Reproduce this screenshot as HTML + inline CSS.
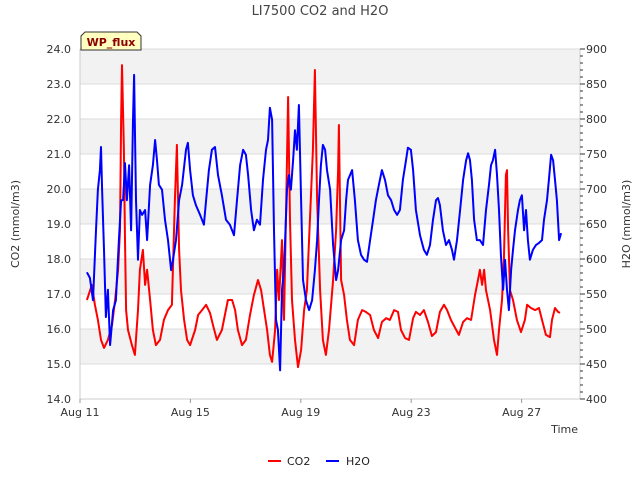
<!DOCTYPE html>
<html><head><meta charset="utf-8"><style>
body{margin:0;background:#fff;font-family:"Liberation Sans","DejaVu Sans",sans-serif}
svg text{font-family:"DejaVu Sans","Liberation Sans",sans-serif}
</style></head><body>
<svg id="chart" width="640" height="480" xmlns="http://www.w3.org/2000/svg">
<rect width="640" height="480" fill="#fff"/>
<text x="320" y="15" text-anchor="middle" font-size="13" fill="#444">LI7500 CO2 and H2O</text>
<g id="bands"></g>
<g id="grid"></g>
<line x1="80" y1="399" x2="580" y2="399" stroke="#ccc"/>
<line x1="80" y1="49" x2="80" y2="399" stroke="#ccc"/>
<line x1="580" y1="49" x2="580" y2="399" stroke="#ccc"/>
<g id="ticks"></g>
<g id="series"></g>
<text transform="translate(19,224) rotate(-90)" text-anchor="middle" font-size="11" fill="#333">CO2 (mmol/m3)</text>
<text transform="translate(630,224) rotate(-90)" text-anchor="middle" font-size="11" fill="#333">H2O (mmol/m3)</text>
<text x="578" y="433" text-anchor="end" font-size="11" fill="#333">Time</text>
<g>
<path d="M81,50 L81,36 L85,32 L137,32 L141,36 L141,50 Z" fill="#ffffc0" stroke="#333"/>
<text x="111" y="46" text-anchor="middle" font-size="11" font-weight="bold" fill="#8b0000">WP_flux</text>
</g>
<g>
<line x1="268" y1="461" x2="281" y2="461" stroke="#ff0000" stroke-width="2"/>
<text x="287" y="465" font-size="11" fill="#222">CO2</text>
<line x1="326" y1="461" x2="339" y2="461" stroke="#0000ff" stroke-width="2"/>
<text x="346" y="465" font-size="11" fill="#222">H2O</text>
</g>
</svg>
<script>
const xTickDays=[0,4,8,12,16];
const xTickLabels=["Aug 11","Aug 15","Aug 19","Aug 23","Aug 27"];
const leftTicks=[14,15,16,17,18,19,20,21,22,23,24];
const rightTicks=[400,450,500,550,600,650,700,750,800,850,900];
const co2Days=[0.25,0.43,0.54,0.65,0.76,0.87,1.01,1.16,1.27,1.38,1.45,1.49,1.52,1.59,1.63,1.67,1.74,1.88,1.99,2.10,2.17,2.28,2.36,2.43,2.54,2.64,2.75,2.90,3.04,3.19,3.33,3.44,3.51,3.59,3.66,3.77,3.88,3.99,4.17,4.28,4.42,4.57,4.71,4.82,4.96,5.14,5.36,5.51,5.62,5.72,5.87,6.01,6.16,6.30,6.45,6.56,6.67,6.78,6.88,6.96,7.07,7.14,7.21,7.32,7.39,7.46,7.54,7.61,7.68,7.79,7.90,8.01,8.12,8.22,8.33,8.44,8.51,8.59,8.70,8.80,8.91,9.02,9.17,9.28,9.35,9.38,9.46,9.57,9.67,9.78,9.93,10.07,10.22,10.36,10.51,10.65,10.80,10.94,11.09,11.23,11.38,11.52,11.63,11.78,11.92,12.07,12.17,12.32,12.46,12.61,12.75,12.90,13.04,13.19,13.30,13.44,13.59,13.73,13.88,14.02,14.17,14.31,14.42,14.49,14.57,14.64,14.71,14.86,15.00,15.11,15.18,15.29,15.36,15.43,15.47,15.51,15.58,15.69,15.83,15.98,16.12,16.20,16.34,16.49,16.63,16.74,16.88,17.03,17.10,17.21,17.32,17.39];
const co2Vals=[16.83,17.26,16.69,16.26,15.69,15.46,15.69,16.11,16.83,17.69,18.83,21.97,23.54,21.11,18.54,16.54,15.97,15.54,15.26,16.54,17.69,18.26,17.26,17.69,16.83,15.97,15.54,15.69,16.26,16.54,16.69,19.69,21.26,18.26,17.11,16.26,15.69,15.54,15.97,16.40,16.54,16.69,16.46,16.11,15.69,15.97,16.83,16.83,16.54,15.97,15.54,15.69,16.40,16.97,17.40,17.11,16.54,15.97,15.26,15.06,15.97,17.69,16.83,18.54,16.26,19.11,22.63,19.11,16.83,15.69,14.91,15.40,16.54,17.11,19.11,21.11,23.40,19.69,17.11,15.69,15.26,15.97,17.40,18.83,20.54,21.83,17.40,16.97,16.26,15.69,15.54,16.26,16.54,16.49,16.40,15.97,15.74,16.20,16.31,16.26,16.54,16.49,15.97,15.74,15.69,16.31,16.49,16.40,16.54,16.20,15.80,15.91,16.49,16.69,16.54,16.26,16.03,15.83,16.20,16.31,16.26,16.97,17.40,17.69,17.26,17.69,17.11,16.54,15.69,15.26,15.97,16.83,17.97,20.40,20.54,18.83,17.11,16.83,16.26,15.91,16.26,16.69,16.60,16.54,16.60,16.26,15.83,15.77,16.26,16.60,16.49,16.46];
const h2oDays=[0.25,0.36,0.47,0.58,0.65,0.72,0.76,0.80,0.87,0.94,1.01,1.09,1.20,1.30,1.41,1.49,1.56,1.63,1.70,1.78,1.85,1.92,1.96,2.03,2.10,2.17,2.25,2.36,2.43,2.54,2.64,2.72,2.79,2.86,2.97,3.08,3.19,3.30,3.37,3.48,3.59,3.70,3.84,3.91,3.99,4.09,4.20,4.35,4.49,4.57,4.67,4.78,4.89,5.00,5.14,5.29,5.43,5.58,5.69,5.80,5.91,6.01,6.09,6.20,6.30,6.41,6.52,6.63,6.74,6.81,6.88,6.96,7.03,7.10,7.17,7.25,7.32,7.39,7.50,7.57,7.64,7.72,7.79,7.86,7.93,8.01,8.08,8.19,8.30,8.41,8.51,8.59,8.66,8.73,8.80,8.88,8.95,9.06,9.17,9.28,9.35,9.46,9.57,9.64,9.71,9.86,9.96,10.07,10.18,10.29,10.40,10.51,10.62,10.72,10.83,10.94,11.05,11.16,11.27,11.38,11.49,11.59,11.70,11.81,11.88,11.99,12.07,12.17,12.32,12.46,12.57,12.68,12.79,12.90,12.97,13.04,13.15,13.26,13.37,13.48,13.55,13.66,13.77,13.88,13.99,14.06,14.13,14.20,14.28,14.38,14.49,14.60,14.71,14.82,14.89,14.96,15.04,15.11,15.18,15.25,15.33,15.40,15.47,15.54,15.62,15.69,15.76,15.87,15.94,16.01,16.09,16.16,16.23,16.30,16.41,16.52,16.63,16.74,16.81,16.92,16.99,17.07,17.14,17.21,17.28,17.36,17.43];
const h2oVals=[581,573,541,641,699,727,760,699,613,517,556,477,527,541,627,684,684,737,684,734,641,799,863,684,599,670,663,670,627,706,734,770,741,706,699,656,627,584,599,627,684,706,756,766,727,691,677,663,649,684,727,756,760,720,691,656,649,634,684,734,756,749,720,670,641,656,649,713,756,770,816,799,641,513,499,441,556,584,699,720,699,741,784,756,820,684,570,541,527,541,584,627,684,734,763,756,727,699,620,570,584,627,641,684,713,727,684,627,606,599,596,627,656,684,706,727,713,691,684,670,663,670,713,741,759,756,727,670,634,613,606,620,656,684,687,677,641,620,627,613,599,627,670,713,741,751,741,713,656,627,627,620,670,706,734,741,756,720,670,606,556,599,556,527,584,613,641,670,684,691,641,670,627,599,613,620,623,627,656,684,713,749,741,713,684,627,637];

const NS="http://www.w3.org/2000/svg";
const X0=80,X1=580,Y0=399,Y1=49,DAYPX=27.6;
const xScale=d=>X0+d*DAYPX;
const yLeft=v=>Y0-(v-14)/(24-14)*(Y0-Y1);
const yRight=v=>Y0-(v-400)/(900-400)*(Y0-Y1);
function mk(tag,attrs,parent){const e=document.createElementNS(NS,tag);for(const k in attrs)e.setAttribute(k,attrs[k]);parent.appendChild(e);return e;}
const bands=document.getElementById('bands'),grid=document.getElementById('grid'),ticks=document.getElementById('ticks'),series=document.getElementById('series');
for(let i=0;i<leftTicks.length-1;i++){
  if(i%2===1){const r=mk('rect',{x:X0,y:yLeft(leftTicks[i+1]),width:X1-X0,height:yLeft(leftTicks[i])-yLeft(leftTicks[i+1]),fill:'#f2f2f2'},bands);
  
  }
}
leftTicks.forEach(v=>{
  const y=yLeft(v);
  const g=mk('line',{x1:X0,x2:X1,y1:y,y2:y,stroke:'#dcdcdc'},grid);
  
  
  const t=mk('text',{x:71,y:y+4,'text-anchor':'end','font-size':11,fill:'#333'},ticks);
  t.textContent=v.toFixed(1);
  
  
});
rightTicks.forEach(v=>{
  const y=yRight(v);
  const l=mk('line',{x1:X1,x2:X1+5,y1:y,y2:y,stroke:'#333'},ticks);
  
  
  const t=mk('text',{x:586,y:y+4,'font-size':11,fill:'#333'},ticks);
  t.textContent=v;
  
  
});
for(let v=410;v<900;v+=10){if(v%50===0)continue;const y=yRight(v);
  const l=mk('line',{x1:X1,x2:X1+3,y1:y,y2:y,stroke:'#333'},ticks);
  
  }
xTickDays.forEach((d,i)=>{
  const x=xScale(d);
  const l=mk('line',{x1:x,x2:x,y1:Y0,y2:Y0+4,stroke:'#999'},ticks);
  
  
  const t=mk('text',{x:x,y:416,'text-anchor':'middle','font-size':11,fill:'#333'},ticks);
  t.textContent=xTickLabels[i];
  
  
});
function line(days,vals,ys,color,name){
  const d=days.map((t,i)=>(i?'L':'M')+xScale(t).toFixed(1)+','+ys(vals[i]).toFixed(1)).join('');
  const p=mk('path',{d:d,fill:'none',stroke:color,'stroke-width':2,'stroke-linejoin':'round'},series);
  
  
}
line(co2Days,co2Vals,yLeft,'#ff0000','co2-line');
line(h2oDays,h2oVals,yRight,'#0000ff','h2o-line');
</script>
</body></html>
